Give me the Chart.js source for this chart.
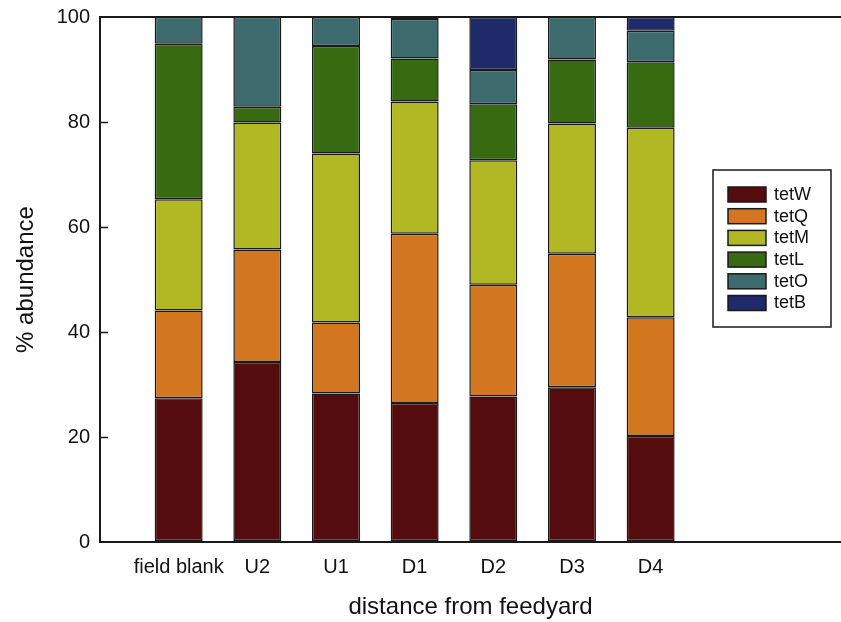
<!DOCTYPE html>
<html>
<head>
<meta charset="utf-8">
<script src="https://cdn.jsdelivr.net/npm/chart.js@4"></script>
<style>
  html, body { margin: 0; padding: 0; background: #fff; }
  #wrap { width: 841px; height: 622px; }
</style>
</head>
<body>
<div id="wrap"><canvas id="chart"></canvas></div>
<script>
const categories = ["field blank", "U2", "U1", "D1", "D2", "D3", "D4"];
const tetW = [27.4, 34.3, 28.3, 26.5, 27.7, 29.5, 20.2];
const tetQ = [16.7, 21.4, 13.5, 32.2, 21.3, 25.4, 22.6];
const tetM = [21.2, 24.2, 32.2, 25.2, 23.7, 24.8, 36.1];
const tetL = [29.6, 3.0, 20.5, 8.2, 10.7, 12.2, 12.5];
const tetO = [5.1, 17.1, 5.5, 7.5, 6.5, 8.1, 6.0];
const tetB = [0, 0, 0, 0.4, 10.1, 0, 2.6];
const yTicks = [0, 20, 40, 60, 80, 100];

const FONT = "'Liberation Sans', Arial, sans-serif";
const ink = "#1a1a1a";

const series = [
    { label: "tetW", values: tetW, color: "#540c0e" },
    { label: "tetQ", values: tetQ, color: "#d27620" },
    { label: "tetM", values: tetM, color: "#b2b824" },
    { label: "tetL", values: tetL, color: "#386b11" },
    { label: "tetO", values: tetO, color: "#3d6a6c" },
    { label: "tetB", values: tetB, color: "#1f2a6a" }
];

// ticks pointing into the plot, plus the boxed legend inside the plot
const extras = {
    id: "extras",
    afterDraw(chart) {
        const c = chart.ctx;
        const area = chart.chartArea;
        const y = chart.scales.y;
        c.save();
        c.strokeStyle = ink;
        c.lineWidth = 1.5;
        yTicks.forEach(v => {
            if (v === 0 || v === 100) return;
            const py = Math.round(y.getPixelForValue(v)) + 0.5;
            c.beginPath();
            c.moveTo(area.left, py);
            c.lineTo(area.left + 8, py);
            c.stroke();
        });

        // legend
        const bx = 713, by = 170, bw = 118, bh = 157;
        c.fillStyle = "#fff";
        c.fillRect(bx, by, bw, bh);
        c.lineWidth = 1.5;
        c.strokeRect(bx, by, bw, bh);
        c.font = "18px " + FONT;
        c.textBaseline = "middle";
        chart.data.datasets.forEach((ds, i) => {
            const sy = 187 + i * 21.7;
            c.fillStyle = ds.backgroundColor;
            c.fillRect(728, sy, 38, 15);
            c.strokeStyle = ink;
            c.strokeRect(728, sy, 38, 15);
            c.fillStyle = "#111";
            c.fillText(ds.label, 774, sy + 8);
        });
        c.restore();
    }
};

const graf = document.getElementById("chart").getContext("2d");
const chart = new Chart(graf, {
    type: "bar",
    data: {
        datasets: series.map(s => ({
            label: s.label,
            data: s.values.map((v, i) => ({ x: i + 1, y: v })),
            backgroundColor: s.color,
            borderColor: ink,
            borderWidth: 1.5,
            borderSkipped: false,
            barPercentage: 0.61,
            categoryPercentage: 1
        }))
    },
    options: {
        responsive: true,
        maintainAspectRatio: false,
        animation: false,
        layout: { padding: { top: 17, right: 0, left: 0, bottom: 0 } },
        plugins: {
            legend: { display: false },
            tooltip: { enabled: false }
        },
        scales: {
            x: {
                type: "linear",
                stacked: true,
                offset: false,
                min: 0,
                max: 9.42,
                afterFit: s => { s.height = 80; s.paddingLeft = 0; s.paddingRight = 0; },
                grid: { display: false },
                border: { display: true, color: ink, width: 2 },
                ticks: {
                    stepSize: 1,
                    autoSkip: false,
                    maxRotation: 0,
                    padding: 5,
                    color: "#111",
                    font: { family: FONT, size: 20 },
                    callback: v => categories[v - 1] || ""
                },
                title: {
                    display: true,
                    text: "distance from feedyard",
                    color: "#111",
                    font: { family: FONT, size: 24 },
                    padding: { top: 0, bottom: 0 }
                }
            },
            y: {
                stacked: true,
                min: 0,
                max: 100,
                afterFit: s => { s.width = 100; s.paddingTop = 0; s.paddingBottom = 0; },
                grid: {
                    drawTicks: false,
                    lineWidth: 2,
                    color: ctx => ctx.tick && ctx.tick.value === 100 ? ink : "transparent"
                },
                border: { display: true, color: ink, width: 2 },
                ticks: {
                    stepSize: 20,
                    padding: 10,
                    color: "#111",
                    font: { family: FONT, size: 20 }
                },
                title: {
                    display: true,
                    text: "% abundance",
                    color: "#111",
                    font: { family: FONT, size: 24 },
                    padding: { top: 12, bottom: 0 }
                }
            }
        }
    },
    plugins: [extras]
});
</script>
</body>
</html>
